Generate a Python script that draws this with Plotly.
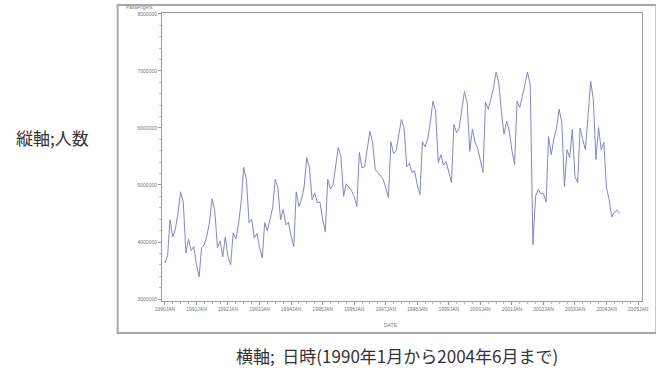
import pandas as pd
import plotly.graph_objects as go

# Monthly passenger counts, January 1990 through June 2004
months = pd.date_range("1990-01-01", "2004-06-01", freq="MS")

passengers = [
    # 1990
    3630000, 3760000, 4390000, 4090000, 4220000, 4500000, 4880000, 4700000, 3810000, 4050000, 3850000, 3920000,
    # 1991
    3600000, 3390000, 3900000, 3950000, 4100000, 4350000, 4760000, 4550000, 3900000, 4020000, 3740000, 4090000,
    # 1992
    3750000, 3600000, 4160000, 4050000, 4300000, 4700000, 5310000, 5100000, 4340000, 4400000, 4070000, 4150000,
    # 1993
    3900000, 3720000, 4340000, 4200000, 4390000, 4600000, 5100000, 4950000, 4390000, 4570000, 4300000, 4350000,
    # 1994
    4100000, 3920000, 4880000, 4620000, 4750000, 4970000, 5480000, 5300000, 4740000, 4860000, 4690000, 4700000,
    # 1995
    4400000, 4180000, 5100000, 4930000, 5000000, 5320000, 5660000, 5500000, 4800000, 5020000, 4950000, 4900000,
    # 1996
    4800000, 4620000, 5570000, 5300000, 5320000, 5600000, 5940000, 5750000, 5270000, 5220000, 5150000, 5100000,
    # 1997
    4950000, 4780000, 5760000, 5550000, 5600000, 5850000, 6150000, 6000000, 5320000, 5380000, 5220000, 5250000,
    # 1998
    5000000, 4830000, 5760000, 5670000, 5800000, 6100000, 6470000, 6300000, 5390000, 5530000, 5350000, 5410000,
    # 1999
    5200000, 5040000, 6060000, 5920000, 6000000, 6300000, 6640000, 6450000, 5590000, 5980000, 5750000, 5650000,
    # 2000
    5400000, 5220000, 6450000, 6330000, 6500000, 6700000, 6980000, 6800000, 6290000, 5890000, 6120000, 5950000,
    # 2001
    5600000, 5360000, 6470000, 6360000, 6550000, 6750000, 6980000, 6750000, 3950000, 4800000, 4920000, 4850000,
    # 2002
    4850000, 4700000, 5850000, 5530000, 5800000, 6000000, 6330000, 6100000, 4970000, 5620000, 5480000, 5980000,
    # 2003
    5150000, 5040000, 6000000, 5800000, 5620000, 6200000, 6820000, 6500000, 5450000, 6010000, 5620000, 5750000,
    # 2004
    4950000, 4740000, 4440000, 4520000, 4560000, 4500000,
]

x_tick_dates = pd.date_range("1990-01-01", "2005-01-01", freq="YS")
x_tick_labels = [f"{d.year}JAN" for d in x_tick_dates]
y_tick_values = [3000000, 4000000, 5000000, 6000000, 7000000, 8000000]
y_tick_labels = [str(v) for v in y_tick_values]

tick_font = dict(family="Liberation Sans, Arial, sans-serif", size=5, color="#777777")
cjk_font = dict(family="Noto Sans CJK JP, sans-serif", size=17, color="#333333")
frame_color = "#9a9a9a"

fig = go.Figure()
fig.add_trace(go.Scatter(
    x=months, y=passengers, mode="lines",
    line=dict(color="#8585c6", width=1),
    showlegend=False,
))

fig.update_layout(
    width=656, height=371,
    margin=dict(l=162, r=7, t=13, b=70),
    paper_bgcolor="white", plot_bgcolor="white",
    xaxis=dict(
        range=["1989-11-28", "2005-02-15"],
        tickvals=x_tick_dates, ticktext=x_tick_labels,
        tickfont=tick_font, ticks="outside", ticklen=3, tickcolor=frame_color,
        minor=dict(dtick="M3", ticks="outside", ticklen=2, tickcolor="#bbbbbb"),
        showline=True, linecolor=frame_color, linewidth=1, mirror=True,
        showgrid=False, zeroline=False,
    ),
    yaxis=dict(
        range=[2965000, 8017000],
        tickvals=y_tick_values, ticktext=y_tick_labels,
        tickfont=tick_font, ticks="outside", ticklen=3, tickcolor=frame_color,
        minor=dict(dtick=200000, ticks="outside", ticklen=2, tickcolor="#bbbbbb"),
        showline=True, linecolor=frame_color, linewidth=1, mirror=True,
        showgrid=False, zeroline=False,
    ),
    shapes=[dict(
        type="rect", xref="paper", yref="paper",
        x0=-0.0924, x1=1.03, y0=-0.111, y1=1.0278,
        line=dict(color="#a8a8a8", width=2), layer="below",
    )],
    annotations=[
        dict(text="Passengers", xref="paper", yref="paper", x=-0.08, y=1.021,
             xanchor="left", yanchor="middle", showarrow=False, font=tick_font),
        dict(text="DATE", xref="paper", yref="paper", x=0.478, y=-0.083,
             xanchor="center", yanchor="middle", showarrow=False, font=tick_font),
        dict(text="縦軸;人数", xref="paper", yref="paper", x=-0.228, y=0.569,
             xanchor="center", yanchor="middle", showarrow=False, font=cjk_font),
        dict(text="横軸;  日時(1990年1月から2004年6月まで)", xref="paper", yref="paper",
             x=0.489, y=-0.1875, xanchor="center", yanchor="middle", showarrow=False,
             font=cjk_font),
    ],
)

fig.write_html("out.html")
